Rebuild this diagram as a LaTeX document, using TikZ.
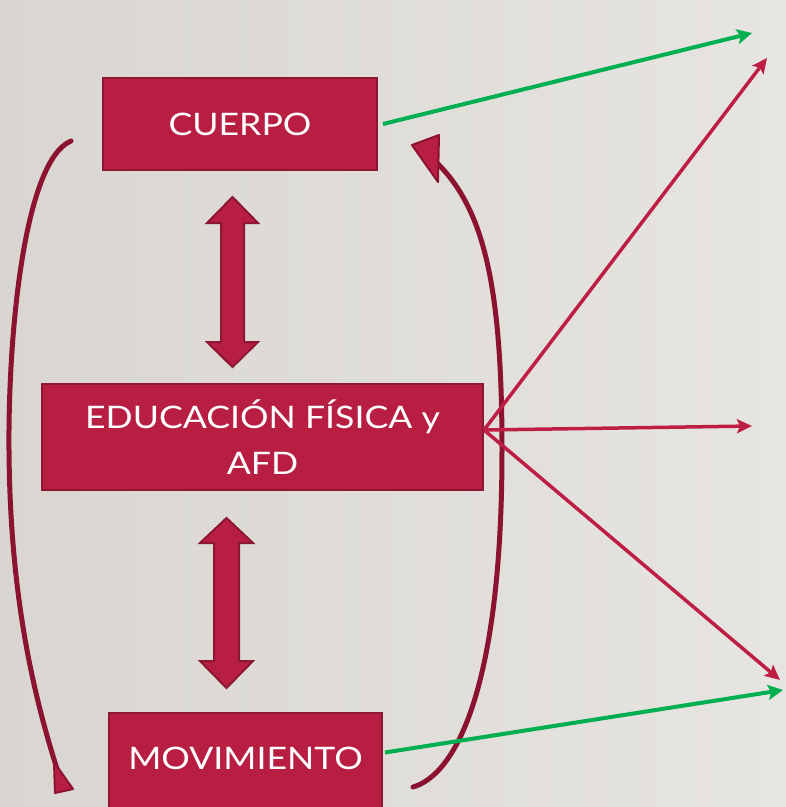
\documentclass[tikz,border=0pt]{standalone}
\usepackage{fontspec}
\newfontfamily\boxfont{Lato}[FakeStretch=1.15]
\usetikzlibrary{arrows.meta}
\definecolor{boxfill}{RGB}{184,30,66}
\definecolor{boxdraw}{RGB}{140,22,52}
\definecolor{curvecol}{RGB}{140,18,50}
\definecolor{thinred}{RGB}{190,30,68}
\definecolor{greenarr}{RGB}{0,176,80}
\definecolor{bgl}{RGB}{217,214,209}
\definecolor{bgr}{RGB}{231,229,225}
\begin{document}
\begin{tikzpicture}[x=1pt,y=-1pt,
  box/.style={draw=boxdraw,line width=2pt,fill=boxfill,text=white,
    font=\boxfont\fontsize{31}{46}\selectfont,inner sep=0pt,align=center},
  dbl/.style={draw=boxdraw,line width=2pt,fill=boxfill,line join=miter},
  greenline/.style={draw=greenarr,line width=4pt,-{Stealth[length=15pt,width=15pt,inset=3pt]}},
  redline/.style={draw=thinred,line width=3.5pt,-{Stealth[length=15pt,width=14pt,inset=3pt]}},
  curve/.style={draw=curvecol,line width=5pt,line cap=round},
  curvehead/.style={fill=boxfill,draw=curvecol,line width=2pt,line join=round}]
\shade[left color=bgl,right color=bgr] (0,0) rectangle (786,807);
\useasboundingbox (0,0) rectangle (786,807);

% boxes
\node[box,minimum width=274pt,minimum height=92pt] (cuerpo) at (240,124) {CUERPO};
\node[box,minimum width=441pt,minimum height=106pt] (edu) at (262.5,437) {EDUCACIÓN FÍSICA y\\AFD};
\node[box,minimum width=273pt,minimum height=97pt,text depth=6pt] (mov) at (245.5,761.5) {MOVIMIENTO};

% double arrows
\draw[dbl] (232.5,197) -- (258,223) -- (244,223) -- (244,342) -- (258,342) -- (232.5,367)
  -- (207,342) -- (221,342) -- (221,223) -- (207,223) -- cycle;
\draw[dbl] (226.5,518) -- (253,543) -- (239,543) -- (239,661) -- (253,661) -- (226.5,688)
  -- (200,661) -- (214,661) -- (214,543) -- (200,543) -- cycle;

% curved connectors
\coordinate (lstart) at (71,141);
\coordinate (lend) at (58,772);
\coordinate (rstart) at (413,787);
\coordinate (rend) at (437,163);
\draw[curve] (lstart) .. controls (25,160) and (8,330) .. (9,450)
  .. controls (10,600) and (35,700) .. (lend);
\draw[curvehead] (54,762) -- (73,789) -- (55,793) -- cycle;
\draw[curve] (rstart) .. controls (455,775) and (502,690) .. (502,450)
  .. controls (502,290) and (485,210) .. (rend);
\draw[curvehead] (412,145) -- (439,135) -- (438,182) -- cycle;

% right-hand arrows
\coordinate (g1) at (752,33);
\coordinate (g2) at (783,690);
\coordinate (r1) at (767,58);
\coordinate (r2) at (752,426);
\coordinate (r3) at (780,680);
\draw[greenline] ([xshift=5pt]cuerpo.east) -- (g1);
\draw[greenline] ([xshift=2pt,yshift=9pt]mov.east) -- (g2);
\draw[redline] ([yshift=7pt]edu.east) -- (r1);
\draw[redline] ([yshift=7pt]edu.east) -- (r2);
\draw[redline] ([yshift=7pt]edu.east) -- (r3);
\end{tikzpicture}
\end{document}
